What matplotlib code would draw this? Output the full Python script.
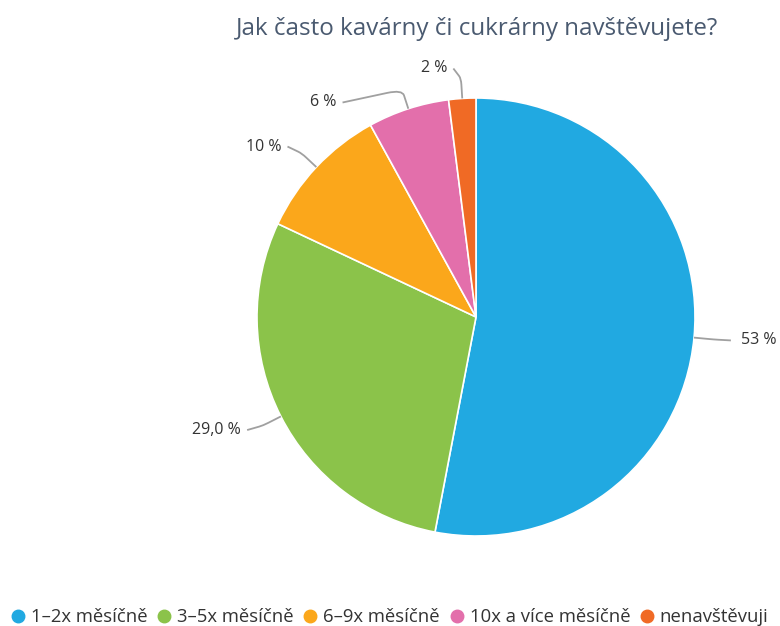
import numpy as np
import matplotlib
matplotlib.use("Agg")
import matplotlib.pyplot as plt
from matplotlib.lines import Line2D
from matplotlib.path import Path
from matplotlib.patches import PathPatch

title = "Jak často kavárny či cukrárny navštěvujete?"
categories = ["1–2x měsíčně", "3–5x měsíčně", "6–9x měsíčně",
              "10x a více měsíčně", "nenavštěvuji"]
values = [53, 29.0, 10, 6, 2]
value_labels = ["53 %", "29,0 %", "10 %", "6 %", "2 %"]
colors = ["#21a9e1", "#8bc34a", "#fba71b", "#e36fab", "#f06a25"]

W, H = 780, 626
plt.rcParams["font.family"] = ["Open Sans", "DejaVu Sans"]

fig = plt.figure(figsize=(W / 100, H / 100), dpi=100)
ax = fig.add_axes([0, 0, 1, 1])

# pie geometry in pixel units (y measured upward)
cx, cy, r = 476, H - 317, 219
wedges, _ = ax.pie(values, colors=colors, startangle=90, counterclock=False,
                   center=(cx, cy), radius=r,
                   wedgeprops=dict(edgecolor="white", linewidth=1.2))
ax.set_xlim(0, W)
ax.set_ylim(0, H)
ax.set_aspect("equal")
ax.axis("off")

# data labels, Highcharts-like placement with connectors
dist = 30
total = sum(values)
cum = np.cumsum([0] + values[:-1])
mids = np.radians(90 - (cum + np.array(values) / 2) / total * 360)

labels = []
for i, a in enumerate(mids):
    side = 1 if np.cos(a) >= 0 else -1
    y = cy + (r + dist) * np.sin(a)
    labels.append([i, side, y])

min_gap = 34
for side in (1, -1):
    items = sorted([l for l in labels if l[1] == side], key=lambda l: -l[2])
    for prev, cur in zip(items, items[1:]):
        if prev[2] - cur[2] < min_gap:
            cur[2] = prev[2] - min_gap

for i, side, y in labels:
    a = mids[i]
    dy = y - cy
    ax_x = cx + side * np.sqrt(max((r + dist) ** 2 - dy ** 2, 0))
    tx = ax_x + side * (17 if side > 0 else 13)
    ax.text(tx, y, value_labels[i], ha="left" if side > 0 else "right",
            va="center", fontsize=11.5, color="#333333")
    s = np.array([ax_x + side * 7, y])
    b = np.array([cx + (r + 20) * np.cos(a), cy + (r + 20) * np.sin(a)])
    e = np.array([cx + r * np.cos(a), cy + r * np.sin(a)])
    p1 = s + 0.75 * (b - s)
    p2 = b + 0.3 * (e - b)
    path = Path([s, p1, b, p2, e],
                [Path.MOVETO, Path.LINETO, Path.CURVE3, Path.CURVE3, Path.LINETO])
    ax.add_patch(PathPatch(path, fill=False, edgecolor="#a0a0a0", linewidth=1.3))

fig.text(0.6115, 1 - 29 / H, title, ha="center", va="center",
         fontsize=17.4, color="#4a5a70")

handles = [Line2D([], [], marker="o", linestyle="none", markersize=9,
                  markerfacecolor=c, markeredgecolor=c) for c in colors]
fig.legend(handles, categories, loc="center", bbox_to_anchor=(0.5, 9 / H),
           ncol=5, frameon=False, fontsize=13.3, handlelength=0.7,
           handletextpad=0.35, columnspacing=0.55, labelcolor="#333333")

fig.savefig("out.png", dpi=100)
